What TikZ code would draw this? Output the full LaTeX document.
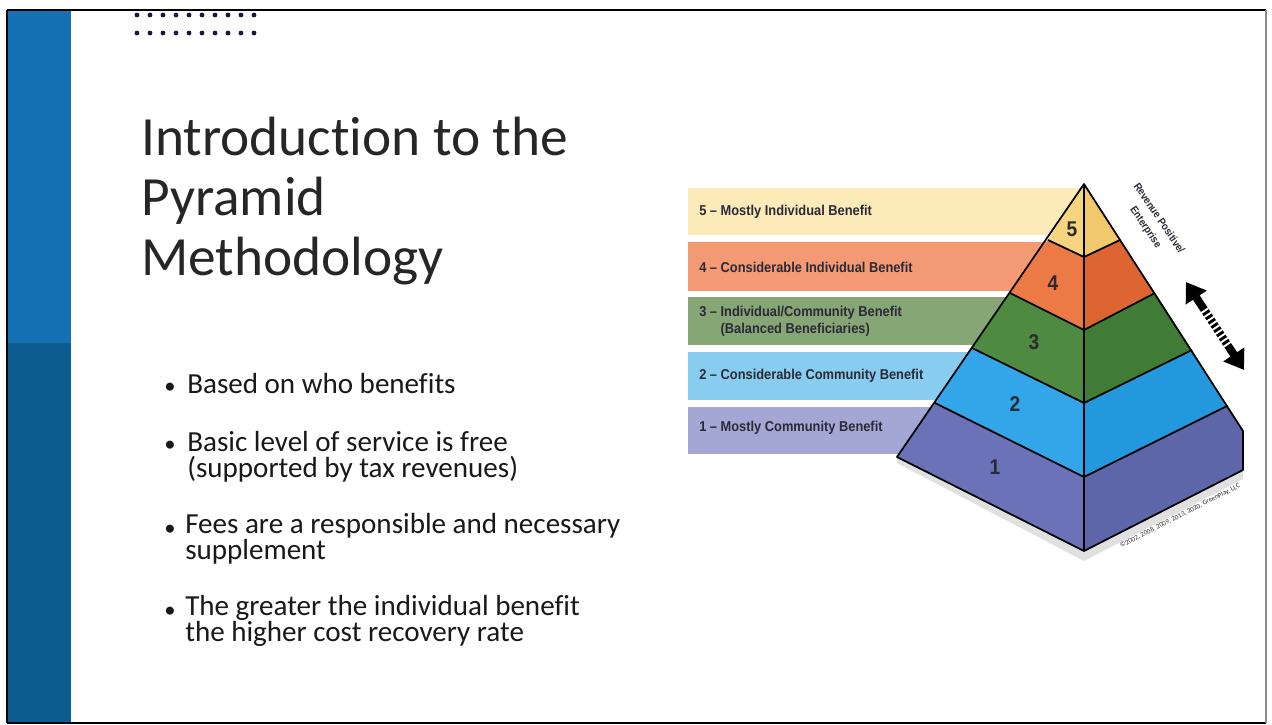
\documentclass[tikz,border=0pt]{standalone}
\usepackage{xcolor}
\usepackage{fontspec}
\setmainfont{Carlito}[Ligatures=NoCommon]
\newfontfamily\bandfont[FakeStretch=0.9]{Liberation Sans}
\usetikzlibrary{arrows.meta}

\definecolor{barTop}{HTML}{1670B4}
\definecolor{barLow}{HTML}{0F5C8F}
\definecolor{dotBlue}{HTML}{151A3A}
\definecolor{bandFive}{HTML}{FCEBB8}
\definecolor{bandFour}{HTML}{F39A75}
\definecolor{bandThree}{HTML}{86A675}
\definecolor{bandTwo}{HTML}{88CCF0}
\definecolor{bandOne}{HTML}{A4A7D4}
\definecolor{pyrFiveL}{HTML}{F7D57E}
\definecolor{pyrFiveR}{HTML}{F1C96C}
\definecolor{pyrFourL}{HTML}{EC7A45}
\definecolor{pyrFourR}{HTML}{DC6531}
\definecolor{pyrThreeL}{HTML}{4E8B40}
\definecolor{pyrThreeR}{HTML}{407C36}
\definecolor{pyrTwoL}{HTML}{33A6EA}
\definecolor{pyrTwoR}{HTML}{2398DD}
\definecolor{pyrOneL}{HTML}{6B72B8}
\definecolor{pyrOneR}{HTML}{5E66AA}
\definecolor{inkDark}{HTML}{2A2A36}

\begin{document}
\begin{tikzpicture}[x=0.75pt,y=0.75pt,yscale=-1,xscale=1,
  edge/.style={draw=black,line width=1.3pt,line join=round},
  bandtext/.style={anchor=west,inner sep=0.75pt,align=left,text=inkDark,font=\bandfont\bfseries\fontsize{10.7}{12.5}\selectfont},
  layerno/.style={inner sep=0.75pt,text=inkDark,font=\bandfont\bfseries\fontsize{16}{16}\selectfont},
  bullet/.style={anchor=base west,inner sep=0pt,align=left,text=black!90,font=\fontsize{21.8}{19.5}\selectfont},
  bulletdot/.style={anchor=base west,inner sep=0pt,text=black!90,font=\fontsize{17}{17}\selectfont}]

\useasboundingbox (0,0) rectangle (1272,725);
\fill[white] (0,0) rectangle (1272,725);

% side bar and frame
\fill[barTop] (8,10) rectangle (71,343);
\fill[barLow] (8,343) rectangle (71,722);
\draw[black,line width=2pt] (7,10) -- (1266,10);
\draw[black,line width=2pt] (7,723) -- (1266,723);
\draw[black,line width=1.5pt] (7,10) -- (7,723);
\draw[black!45,line width=1pt] (1266,10) -- (1266,723);

% dots
\foreach \i in {0,...,9} {
  \fill[dotBlue] (137+13*\i,15) circle (2.4);
  \fill[dotBlue] (137+13*\i,33) circle (2.4);
}

% title and bullets
\node (title) [anchor=base west,inner sep=0pt,align=left,text=black!85,font=\fontsize{41.5}{45}\selectfont] at (141,275) {Introduction to the\\Pyramid\\Methodology};

\node (dot1) [bulletdot] at (164,393) {•};
\node (item1) [bullet] at (187,393) {Based on who benefits};
\node (dot2) [bulletdot] at (164,451) {•};
\node (item2) [bullet] at (187,477) {Basic level of service is free\\(supported by tax revenues)};
\node (dot3) [bulletdot] at (164,535) {•};
\node (item3) [bullet] at (185,559) {Fees are a responsible and necessary\\supplement};
\node (dot4) [bulletdot] at (164,617) {•};
\node (item4) [bullet] at (185,641) {The greater the individual benefit\\the higher cost recovery rate};

% bands
\fill[bandFive]  (688,188) rectangle (1084,235);
\fill[bandFour]  (688,242) rectangle (1084,291);
\fill[bandThree] (688,297) rectangle (1084,345);
\fill[bandTwo]   (688,352) rectangle (1084,400);
\fill[bandOne]   (688,407) rectangle (1084,454);

\node (lab5) [bandtext] at (698,212) {5 – Mostly Individual Benefit};
\node (lab4) [bandtext] at (698,267) {4 – Considerable Individual Benefit};
\node (lab3) [bandtext] at (698,321) {3 – Individual/Community Benefit\\\phantom{3 – }(Balanced Beneficiaries)};
\node (lab2) [bandtext] at (698,376) {2 – Considerable Community Benefit};
\node (lab1) [bandtext] at (698,428) {1 – Mostly Community Benefit};

% pyramid points
\coordinate (A)  at (1084,184);
\coordinate (L0) at (897,457);
\coordinate (L1) at (935,403);
\coordinate (L2) at (972,348);
\coordinate (L3) at (1010,293);
\coordinate (L4) at (1048,240);
\coordinate (C0) at (1084,551);
\coordinate (C1) at (1084,477);
\coordinate (C2) at (1084,403);
\coordinate (C3) at (1084,330);
\coordinate (C4) at (1084,257);
\coordinate (R1) at (1227,406);
\coordinate (R2) at (1192,350);
\coordinate (R3) at (1155,293);
\coordinate (R4) at (1120,240);
\coordinate (Rc) at (1243,431);
\coordinate (Rb) at (1243,470);

% shadow
\fill[black!12] (L0) -- (C0) -- (Rb) -- (1243,479) -- (1084,561) -- (897,463) -- cycle;

% layers
\fill[pyrOneL]   (L0) -- (L1) -- (C1) -- (C0) -- cycle;
\fill[pyrOneR]   (C0) -- (C1) -- (R1) -- (Rc) -- (Rb) -- cycle;
\fill[pyrTwoL]   (L1) -- (L2) -- (C2) -- (C1) -- cycle;
\fill[pyrTwoR]   (C1) -- (C2) -- (R2) -- (R1) -- cycle;
\fill[pyrThreeL] (L2) -- (L3) -- (C3) -- (C2) -- cycle;
\fill[pyrThreeR] (C2) -- (C3) -- (R3) -- (R2) -- cycle;
\fill[pyrFourL]  (L3) -- (L4) -- (C4) -- (C3) -- cycle;
\fill[pyrFourR]  (C3) -- (C4) -- (R4) -- (R3) -- cycle;
\fill[pyrFiveL]  (L4) -- (A) -- (C4) -- cycle;
\fill[pyrFiveR]  (C4) -- (A) -- (R4) -- cycle;

\draw[edge] (L0) -- (A) -- (Rc) -- (Rb) -- (C0) -- cycle;
\draw[edge] (A) -- (C0);
\draw[edge] (L1) -- (C1) -- (R1);
\draw[edge] (L2) -- (C2) -- (R2);
\draw[edge] (L3) -- (C3) -- (R3);
\draw[edge] (L4) -- (C4) -- (R4);

\node (no5) [layerno] at (1072,229) {5};
\node (no4) [layerno] at (1053,283) {4};
\node (no3) [layerno] at (1034,342) {3};
\node (no2) [layerno] at (1015,404) {2};
\node (no1) [layerno] at (995,467) {1};

% side note and arrow
\node (revenue) [inner sep=0pt,align=center,rotate=-56,text=inkDark,font=\bandfont\bfseries\fontsize{8}{12}\selectfont] at (1152,223) {Revenue Positive/\\Enterprise};

\coordinate (arTop) at (1186,282);
\coordinate (arLow) at (1244,370);
\coordinate (stTop) at (1204,310);
\coordinate (stLow) at (1228,346);
\draw[black,line width=6pt,{Triangle[width=18pt,length=14pt]}-{Triangle[width=18pt,length=14pt]}] (arTop) -- (arLow);
\draw[white,line width=7pt,dash pattern=on 1.4pt off 2.4pt] (stTop) -- (stLow);

\node (copy) [inner sep=0pt,rotate=27,text=black!80,font=\fontsize{5.2}{6}\selectfont] at (1180,516) {©2002, 2008, 2009, 2013, 2020, GreenPlay, LLC};

\end{tikzpicture}
\end{document}
